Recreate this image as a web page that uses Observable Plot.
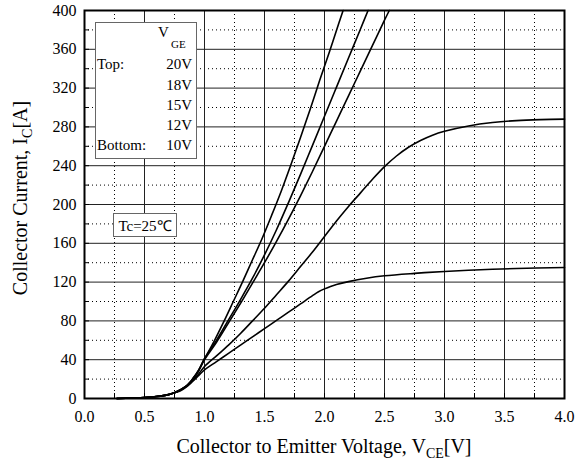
<!DOCTYPE html>
<html>
<head>
<meta charset="utf-8">
<script src="https://cdn.jsdelivr.net/npm/d3@7"></script>
<script src="https://cdn.jsdelivr.net/npm/@observablehq/plot@0.6"></script>
<style>
  html, body { margin: 0; padding: 0; background: #fff; }
  #wrap { position: relative; width: 575px; height: 462px; font-family: "Liberation Serif", "Times New Roman", serif; color: #000; }
  .ov { position: absolute; white-space: nowrap; }
  .box { position: absolute; border: 1px solid #666; background: #fff; box-sizing: border-box; }
</style>
</head>
<body>
<div id="wrap"></div>
<script>
// ---- Data ----
const xTicksMajor = [0, 0.5, 1.0, 1.5, 2.0, 2.5, 3.0, 3.5, 4.0];
const xTicksMinor = [0.25, 0.75, 1.25, 1.75, 2.25, 2.75, 3.25, 3.75];
const yTicksMajor = [0, 40, 80, 120, 160, 200, 240, 280, 320, 360, 400];
const yTicksMinor = [20, 60, 100, 140, 180, 220, 260, 300, 340, 380];

const vce20 = [0.27,0.4,0.5,0.6,0.7,0.75,0.8,0.85,0.9,0.95,1.0,1.08,1.16,1.24,1.32,1.40,1.48,1.56,1.64,1.72,1.80,1.88,1.96,2.04,2.12,2.155];
const ic20  = [0,0.5,1,2,4,6,9,13,20,29,41,59,79,100,121,143,165,189,214,241,269,298,328,357,387,400];

const vce18 = [0.27,0.4,0.5,0.6,0.7,0.75,0.8,0.85,0.9,0.95,1.0,1.1,1.2,1.3,1.4,1.5,1.6,1.7,1.8,1.9,2.0,2.1,2.2,2.3,2.363];
const ic18  = [0,0.5,1,2,4,6,9,13,20,29,41,60,81,102,124,148,174,202,231,261,291,321,351,381,400];

const vce15 = [0.27,0.4,0.5,0.6,0.7,0.75,0.8,0.85,0.9,0.95,1.0,1.1,1.2,1.3,1.4,1.5,1.6,1.7,1.8,1.9,2.0,2.1,2.2,2.3,2.4,2.5,2.54];
const ic15  = [0,0.5,1,2,4,6,9,13,19,28,40,58,78,98,119,140,162,185,209,234,260,286,312,338,364,390,400];

const vce12 = [0.27,0.4,0.5,0.6,0.7,0.75,0.8,0.85,0.9,0.95,1.0,1.1,1.2,1.3,1.4,1.5,1.6,1.7,1.8,1.9,2.0,2.1,2.2,2.3,2.4,2.5,2.6,2.7,2.8,2.9,3.0,3.2,3.4,3.6,3.8,4.0];
const ic12  = [0,0.5,1,2,4,6,8.5,12.5,18,25,33,44,55,67,80,93,107,121,136,151,167,183,198,212,226,239,250,259,266,271.5,275.5,281,284.5,286.5,287.5,288];

const vce10 = [0.27,0.4,0.5,0.6,0.7,0.75,0.8,0.85,0.9,0.95,1.0,1.1,1.2,1.3,1.4,1.5,1.6,1.7,1.8,1.9,1.95,2.0,2.05,2.1,2.2,2.35,2.5,2.75,3.0,3.3,3.6,4.0];
const ic10  = [0,0.5,1,2,4,6,8,12,17.5,23.5,29.5,38,46.5,55,63.5,72,80.5,89,97.5,106,110,113,115.5,117.5,120.5,124,126.5,129,131,132.8,134,135];

const seriesNames = ["20V", "18V", "15V", "12V", "10V"];
const seriesX = [vce20, vce18, vce15, vce12, vce10];
const seriesY = [ic20, ic18, ic15, ic12, ic10];

const rows = [];
seriesNames.forEach((name, i) => {
  seriesX[i].forEach((v, j) => rows.push({vge: name, vce: v, ic: seriesY[i][j]}));
});

const fmt1 = d3.format(".1f");

const chart = Plot.plot({
  width: 575,
  height: 462,
  marginLeft: 84,
  marginRight: 11,
  marginTop: 10,
  marginBottom: 64,
  style: { fontFamily: "'Liberation Serif', 'Times New Roman', serif", fontSize: "16px", background: "#fff", color: "#000", overflow: "visible" },
  x: { domain: [0, 4] },
  y: { domain: [0, 400] },
  marks: [
    Plot.ruleX(xTicksMinor, { stroke: "#000", strokeWidth: 1, strokeDasharray: "1,3" }),
    Plot.ruleY(yTicksMinor, { stroke: "#000", strokeWidth: 1, strokeDasharray: "1,3" }),
    Plot.ruleX(xTicksMajor, { stroke: "#222", strokeWidth: 1 }),
    Plot.ruleY(yTicksMajor, { stroke: "#222", strokeWidth: 1 }),
    Plot.line(rows, { x: "vce", y: "ic", z: "vge", curve: "catmull-rom", stroke: "#000", strokeWidth: 1.6 }),
    Plot.axisX({ ticks: xTicksMajor.concat(xTicksMinor), tickSize: -5, tickFormat: () => "", label: null }),
    Plot.axisY({ ticks: yTicksMajor.concat(yTicksMinor), tickSize: -5, tickFormat: () => "", label: null }),
    Plot.axisX({ ticks: xTicksMajor, tickSize: 0, tickPadding: 12, tickFormat: fmt1, label: null }),
    Plot.axisY({ ticks: yTicksMajor, tickSize: 0, tickPadding: 8, label: null }),
    Plot.frame({ stroke: "#000", strokeWidth: 2 })
  ]
});

const wrap = document.getElementById("wrap");
wrap.appendChild(chart);

function add(html, style, cls) {
  const d = document.createElement("div");
  d.className = cls || "ov";
  d.innerHTML = html;
  Object.assign(d.style, style);
  wrap.appendChild(d);
  return d;
}

// Axis titles
add('Collector to Emitter Voltage, V<span style="font-size:14px;position:relative;top:5px">CE</span>[V]',
    { left: "84px", width: "480px", textAlign: "center", top: "435px", fontSize: "20px" });
add('Collector Current, I<span style="font-size:14px;position:relative;top:5px">C</span>[A]',
    { left: "20px", top: "198px", fontSize: "20px", transform: "translate(-50%,-50%) rotate(-90deg)", transformOrigin: "center" });

// Legend box
add('', { left: "95px", top: "22px", width: "102px", height: "137px" }, "box");
add('V', { left: "158px", top: "24px", fontSize: "15px" });
add('GE', { left: "171px", top: "38px", fontSize: "11px" });
const legendRows = [["Top:", "20V", 56], ["", "18V", 77], ["", "15V", 97], ["", "12V", 117], ["Bottom:", "10V", 137]];
legendRows.forEach(([a, b, t]) => {
  if (a) add(a, { left: "97px", top: t + "px", fontSize: "15px" });
  add(b, { left: "150px", width: "42px", textAlign: "right", top: t + "px", fontSize: "15px" });
});

// Temperature box
add('', { left: "113px", top: "213px", width: "64px", height: "24px" }, "box");
add('Tc=25℃', { left: "113px", width: "64px", textAlign: "center", top: "215px", fontSize: "15px" });
</script>
</body>
</html>
